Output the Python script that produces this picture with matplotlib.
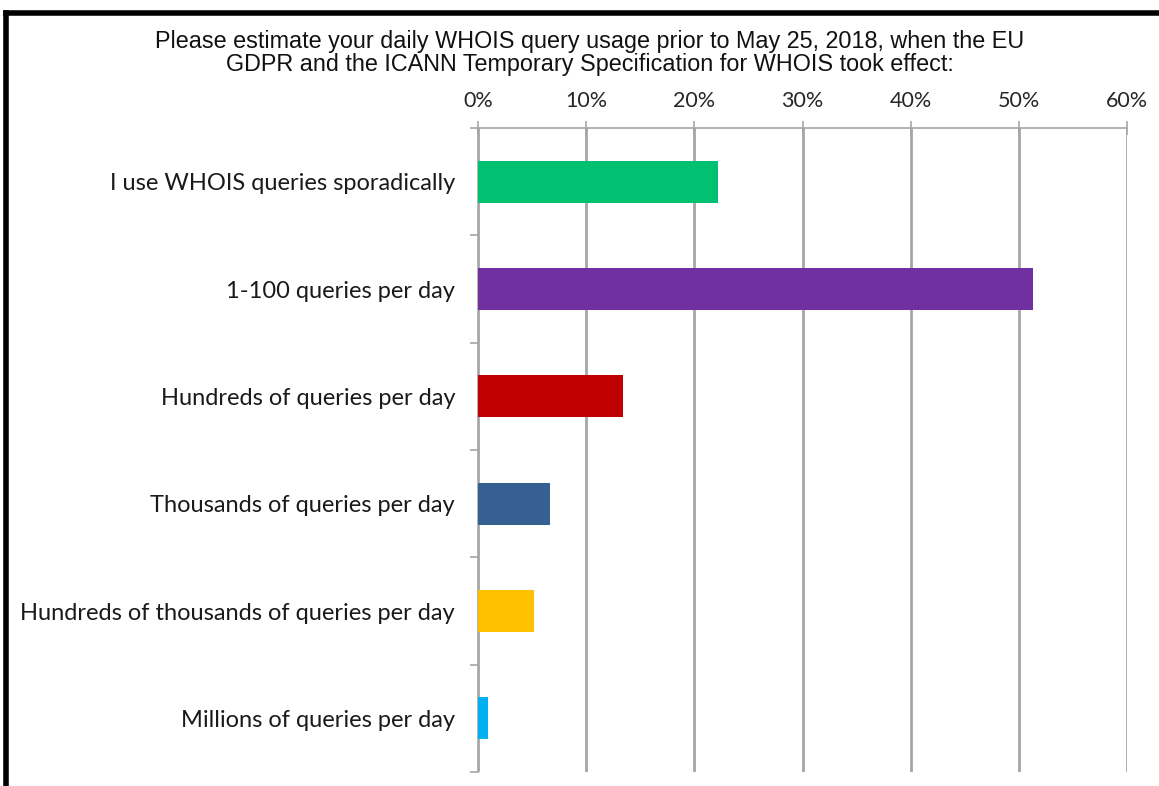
import matplotlib.pyplot as plt
from matplotlib.lines import Line2D
from matplotlib.ticker import PercentFormatter, FixedLocator

categories = ['I use WHOIS queries sporadically',
              '1-100 queries per day',
              'Hundreds of queries per day',
              'Thousands of queries per day',
              'Hundreds of thousands of queries per day',
              'Millions of queries per day']
values = [22.2, 51.3, 13.4, 6.7, 5.2, 0.9]
colors = ['#00c072', '#7030a0', '#c00000', '#366092', '#ffc000', '#00b0f0']
title = ('Please estimate your daily WHOIS query usage prior to May 25, 2018, when the EU\n'
         'GDPR and the ICANN Temporary Specification for WHOIS took effect:')

W, H = 1159, 786
fig = plt.figure(figsize=(W / 100, H / 100), dpi=100)
ax = fig.add_axes([478 / W, 1 - 772 / H, (1127 - 478) / W, (772 - 128) / H])

pos = list(range(len(categories)))
ax.barh(pos, values, height=0.39, color=colors, zorder=3)
ax.set_ylim(len(categories) - 0.5, -0.5)
ax.set_xlim(0, 60)

# ticks on top, percentages
ax.xaxis.set_ticks_position('top')
ax.xaxis.set_major_locator(FixedLocator(range(0, 61, 10)))
ax.xaxis.set_major_formatter(PercentFormatter(decimals=0))
ax.tick_params(axis='x', direction='inout', length=10, width=1.2, color='#a6a6a6',
               pad=7, labelsize=15.5, labelcolor='#262626')
ax.grid(axis='x', color='#a6a6a6', linewidth=2, zorder=0)

# category labels at centers, small ticks at boundaries
ax.set_yticks(pos)
ax.set_yticklabels(categories, fontsize=17, color='#1a1a1a')
ax.tick_params(axis='y', which='major', length=0, pad=16.5)
ax.set_yticks([p - 0.5 for p in pos] + [len(pos) - 0.5], minor=True)
ax.tick_params(axis='y', which='minor', length=6, width=1.2, color='#a6a6a6')

for lbl in ax.get_xticklabels() + ax.get_yticklabels():
    lbl.set_family('Lato')

for side in ['right', 'bottom']:
    ax.spines[side].set_visible(False)
for side in ['left', 'top']:
    ax.spines[side].set_color('#a6a6a6')
    ax.spines[side].set_linewidth(1.2)

fig.text(590 / W, 1 - 53 / H, title, ha='center', va='center', fontsize=16.8,
         family='Liberation Sans', color='#111111', linespacing=1.0)

# black frame around the picture (top and left)
fig.add_artist(Line2D([5.5 / W, 1], [1 - 12.5 / H, 1 - 12.5 / H], color='black', linewidth=4,
                      transform=fig.transFigure))
fig.add_artist(Line2D([5.5 / W, 5.5 / W], [0, 1 - 12.5 / H], color='black', linewidth=4,
                      transform=fig.transFigure))

plt.savefig('out.png', dpi=100)
